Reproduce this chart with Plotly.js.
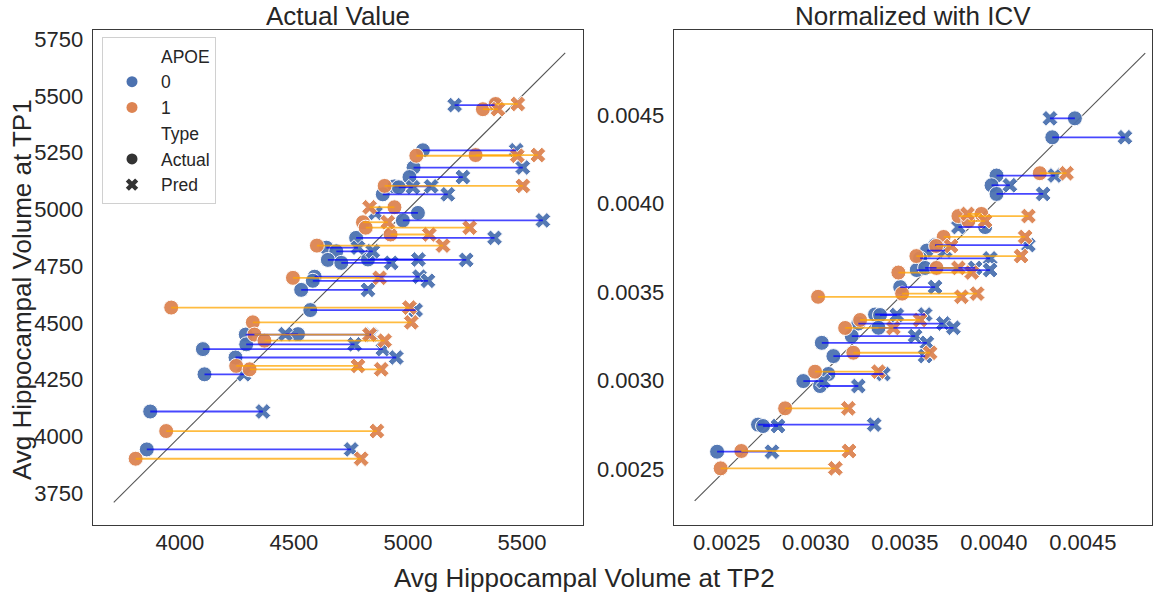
<!DOCTYPE html>
<html><head><meta charset="utf-8">
<script src="https://cdn.plot.ly/plotly-3.0.1.min.js"></script>
<style>html,body{margin:0;padding:0;background:#fff}</style>
</head><body><div id="chart" style="width:1159px;height:596px"></div>
<script>
// ---- Left panel: actual values ----
const rawBlueTP1 = [5460, 5261, 5185, 5143, 5102, 5098, 5067, 4985, 4952, 4875, 4832, 4816, 4778, 4765, 4780, 4704, 4686, 4646, 4557, 4449, 4451, 4406, 4385, 4348, 4274, 4110, 3943];
const rawBlueTP2Actual = [5380, 5066, 5025, 5007, 4941, 4960, 4890, 5044, 4978, 4773, 4642, 4686, 4649, 4708, 4825, 4591, 4583, 4532, 4572, 4289, 4518, 4291, 4101, 4244, 4108, 3870, 3855];
const rawBlueTP2Pred = [5205, 5475, 5504, 5241, 5102, 5022, 5175, 4858, 5592, 5380, 4781, 4846, 5256, 4927, 5046, 5051, 5088, 4825, 5034, 4838, 4463, 4766, 4890, 4949, 4281, 4364, 4751];

const rawOrangeTP1 = [5442, 5465, 5237, 5240, 5104, 5010, 4944, 4920, 4890, 4841, 4699, 4568, 4503, 4449, 4422, 4311, 4296, 4024, 3902];
const rawOrangeTP2Actual = [5329, 5385, 5037, 5297, 4898, 4941, 4803, 4815, 4924, 4601, 4496, 3962, 4320, 4327, 4371, 4247, 4306, 3940, 3806];
const rawOrangeTP2Pred = [5395, 5482, 5480, 5570, 5504, 4832, 4912, 5271, 5094, 5154, 4876, 5007, 5015, 4832, 4898, 4781, 4883, 4864, 4795];

const rawDiagonal = [3710, 5690];

// ---- Right panel: normalized with ICV ----
const normBlueTP1 = [0.004481, 0.004374, 0.004158, 0.004103, 0.004054, 0.003867, 0.003765, 0.003734, 0.00369, 0.003624, 0.003636, 0.003528, 0.003373, 0.00337, 0.003322, 0.003298, 0.003251, 0.003213, 0.003138, 0.003037, 0.002997, 0.002969, 0.002751, 0.002743, 0.002598];
const normBlueTP2Actual = [0.004455, 0.004328, 0.004015, 0.003987, 0.004015, 0.003951, 0.00367, 0.003624, 0.003586, 0.003567, 0.003614, 0.003474, 0.003333, 0.003361, 0.003239, 0.003352, 0.003202, 0.003034, 0.003099, 0.003071, 0.00293, 0.003024, 0.002676, 0.002704, 0.002446];
const normBlueTP2Pred = [0.004315, 0.004736, 0.004343, 0.00409, 0.004277, 0.003801, 0.004194, 0.003726, 0.003979, 0.003979, 0.003895, 0.00367, 0.003614, 0.003455, 0.003717, 0.003773, 0.003558, 0.003624, 0.003614, 0.00338, 0.003043, 0.003239, 0.003328, 0.002788, 0.002754];

const normOrangeTP1 = [0.004171, 0.003929, 0.003941, 0.003901, 0.003811, 0.00376, 0.003703, 0.00361, 0.003636, 0.003491, 0.003473, 0.003342, 0.003297, 0.003157, 0.00305, 0.002843, 0.002602, 0.002504];
const normOrangeTP2Actual = [0.004258, 0.003801, 0.00393, 0.003857, 0.003718, 0.003676, 0.003565, 0.003464, 0.003678, 0.003485, 0.003013, 0.003249, 0.003165, 0.003211, 0.002996, 0.002828, 0.002582, 0.002466];
const normOrangeTP2Pred = [0.004408, 0.004194, 0.003852, 0.003951, 0.004176, 0.00376, 0.004153, 0.003876, 0.003801, 0.003906, 0.003818, 0.003586, 0.003436, 0.003642, 0.003352, 0.003183, 0.003187, 0.00311];

const normDiagonal = [0.00232, 0.00485];

// tick labels
const rawXTicks = [4000, 4500, 5000, 5500];
const rawYTicks = [3750, 4000, 4250, 4500, 4750, 5000, 5250, 5500, 5750];
const normTicks = [0.0025, 0.0030, 0.0035, 0.0040, 0.0045];

const panelTitles = ['Actual Value', 'Normalized with ICV'];
const xLabel = 'Avg Hippocampal Volume at TP2';
const yLabel = 'Avg Hippocampal Volume at TP1';
const apoeLevels = ['0', '1'];
const typeLevels = ['Actual', 'Pred'];

// ---- styles ----
const BLUE = '#4C72B0', ORANGE = '#DD8452';
const LBLUE = 'rgba(0,0,255,0.72)', LORANGE = 'rgba(255,165,0,0.75)';
const FONT = 'Liberation Sans, Arial, sans-serif';
const TXT = '#262626';

function segs(a, p, y) {
  const xs = [], ys = [];
  for (let i = 0; i < y.length; i++) { xs.push(a[i], p[i], null); ys.push(y[i], y[i], null); }
  return {xs, ys};
}

function panelTraces(xa, ya, b, o, diag) {
  const t = [];
  t.push({x: diag, y: diag, xaxis: xa, yaxis: ya, mode: 'lines', line: {color: '#555', width: 1.1}, showlegend: false, hoverinfo: 'skip'});
  const mk = (xs, ys, col, sym, size) => ({x: xs, y: ys, xaxis: xa, yaxis: ya, mode: 'markers', showlegend: false,
    marker: {color: col, symbol: sym, size: size, opacity: 0.95, line: {color: '#fff', width: 1}}});
  t.push(mk(b.a, b.y, BLUE, 'circle', 15));
  t.push(mk(b.p, b.y, BLUE, 'x', 14));
  t.push(mk(o.a, o.y, ORANGE, 'circle', 15));
  t.push(mk(o.p, o.y, ORANGE, 'x', 14));
  const sb = segs(b.a, b.p, b.y), so = segs(o.a, o.p, o.y);
  t.push({x: sb.xs, y: sb.ys, xaxis: xa, yaxis: ya, mode: 'lines', line: {color: LBLUE, width: 1.8}, showlegend: false, hoverinfo: 'skip'});
  t.push({x: so.xs, y: so.ys, xaxis: xa, yaxis: ya, mode: 'lines', line: {color: LORANGE, width: 1.8}, showlegend: false, hoverinfo: 'skip'});
  return t;
}

const traces = [].concat(
  panelTraces('x', 'y', {a: rawBlueTP2Actual, p: rawBlueTP2Pred, y: rawBlueTP1}, {a: rawOrangeTP2Actual, p: rawOrangeTP2Pred, y: rawOrangeTP1}, rawDiagonal),
  panelTraces('x2', 'y2', {a: normBlueTP2Actual, p: normBlueTP2Pred, y: normBlueTP1}, {a: normOrangeTP2Actual, p: normOrangeTP2Pred, y: normOrangeTP1}, normDiagonal)
);

// legend entries
const leg = (name, col, sym) => ({x: [null], y: [null], xaxis: 'x', yaxis: 'y', mode: 'markers', name: name, showlegend: true,
  marker: {color: col, symbol: sym, size: 11, line: {width: 0}}});
traces.push(leg('APOE', 'rgba(0,0,0,0)', 'circle'));
traces.push(leg(apoeLevels[0], BLUE, 'circle'));
traces.push(leg(apoeLevels[1], ORANGE, 'circle'));
traces.push(leg('Type', 'rgba(0,0,0,0)', 'circle'));
traces.push(leg(typeLevels[0], '#333', 'circle'));
traces.push(leg(typeLevels[1], '#333', 'x'));

const W = 1159, H = 596;
const px = v => v / W, py = v => 1 - v / H;
const axBase = {showline: true, mirror: true, linecolor: '#3a3a3a', linewidth: 1.3, showgrid: false, zeroline: false,
  ticks: '', tickfont: {family: FONT, size: 22, color: TXT}};

const ann = (text, x, y, extra) => Object.assign({text: text, x: px(x), y: py(y), xref: 'paper', yref: 'paper', xanchor: 'center', yanchor: 'middle',
  showarrow: false, font: {size: 26, family: FONT, color: TXT}}, extra || {});

const layout = {
  width: W, height: H, margin: {l: 0, r: 0, t: 0, b: 0},
  paper_bgcolor: '#fff', plot_bgcolor: '#fff',
  font: {family: FONT, color: TXT},
  showlegend: true,
  legend: {x: px(102), y: py(37), xanchor: 'left', yanchor: 'top', bgcolor: '#fff', bordercolor: '#d0d0d0', borderwidth: 1,
    font: {family: FONT, size: 17.5, color: TXT}, itemwidth: 48, tracegroupgap: 0},
  xaxis: Object.assign({}, axBase, {domain: [px(93), px(583)], range: [3619, 5768], tickvals: rawXTicks, anchor: 'y', ticklabelstandoff: -3}),
  yaxis: Object.assign({}, axBase, {domain: [1 - 525 / H, 1 - 30 / H], range: [3610, 5791], tickvals: rawYTicks, anchor: 'x', ticklabelstandoff: 4}),
  xaxis2: Object.assign({}, axBase, {domain: [px(674), px(1152)], range: [0.002204, 0.004888], tickvals: normTicks, tickformat: '.4f', anchor: 'y2', ticklabelstandoff: -3}),
  yaxis2: Object.assign({}, axBase, {domain: [1 - 525 / H, 1 - 30 / H], range: [0.002184, 0.00498], tickvals: normTicks, tickformat: '.4f', anchor: 'x2', ticklabelstandoff: 4}),
  annotations: [
    ann(panelTitles[0], 338, 16),
    ann(panelTitles[1], 913, 16),
    ann(xLabel, 584, 578),
    ann(yLabel, 22, 290, {textangle: -90})
  ]
};

Plotly.newPlot('chart', traces, layout, {displayModeBar: false, staticPlot: true});
</script>
</body></html>
